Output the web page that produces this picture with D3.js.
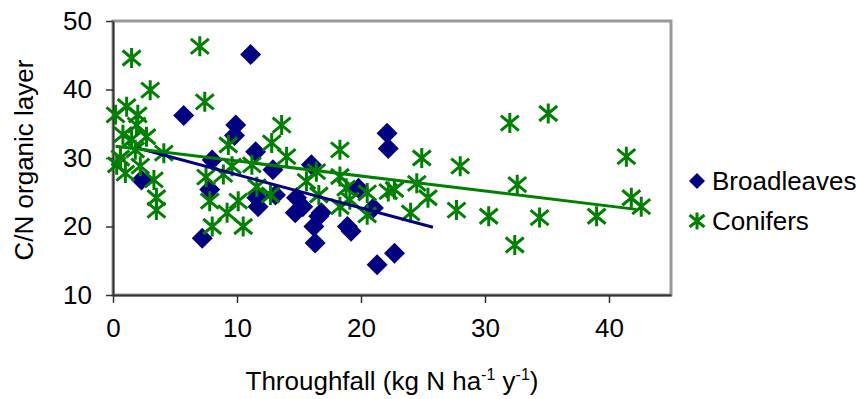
<!DOCTYPE html>
<html>
<head>
<meta charset="utf-8">
<script src="https://cdn.jsdelivr.net/npm/d3@7"></script>
<style>
  html, body { margin: 0; padding: 0; background: #fff; }
  svg { display: block; font-family: "Liberation Sans", Arial, sans-serif; }
</style>
</head>
<body>
<svg id="chart" width="856" height="399"></svg>
<script>
// ---- data ----
const broadleavesX = [11.1, 5.7, 9.9, 9.8, 11.5, 8.0, 2.3, 7.8, 7.2, 12.9, 11.6, 11.7, 13.1, 14.8, 14.7, 16.0, 22.1, 22.2, 19.8, 21.0, 15.3, 16.8, 16.6, 16.2, 18.9, 19.2, 16.3, 22.7, 21.3];
const broadleavesY = [45.1, 36.2, 34.8, 33.3, 30.9, 29.7, 26.8, 25.4, 18.3, 28.3, 24.2, 22.9, 24.6, 24.2, 22.0, 29.0, 33.6, 31.4, 25.6, 22.7, 22.9, 22.0, 21.5, 20.0, 20.0, 19.3, 17.6, 16.1, 14.4];

const conifersX = [1.5, 7.0, 3.0, 7.4, 1.1, 0.2, 2.0, 1.9, 0.8, 2.7, 1.5, 1.8, 4.1, 0.6, 0.3, 1.0, 2.2, 3.3, 3.5, 3.5, 7.5,
  13.6, 9.3, 12.8, 14.0, 11.2, 9.6, 8.9, 11.6, 12.7, 7.8, 10.1, 9.2, 8.0, 10.5,
  15.6, 18.3, 24.9, 16.4, 18.3, 18.8, 20.5, 22.2, 22.7, 24.5, 16.6, 19.1, 18.3, 20.5, 24.0, 25.4, 28.0, 27.7,
  32.0, 35.1, 41.4, 32.6, 30.3, 34.4, 32.4, 39.0, 41.8, 42.6];
const conifersY = [44.6, 46.3, 39.9, 38.2, 37.5, 36.3, 36.3, 34.8, 33.4, 33.1, 32.7, 31.2, 30.7, 30.0, 29.0, 27.8, 28.8, 26.8, 24.2, 22.4, 27.2,
  34.8, 31.9, 32.2, 30.2, 29.0, 28.8, 27.6, 25.8, 24.6, 23.7, 23.7, 22.0, 20.0, 20.0,
  26.6, 31.2, 30.0, 28.0, 27.3, 25.6, 24.9, 25.1, 25.4, 26.3, 24.6, 23.9, 22.9, 21.7, 22.0, 24.2, 28.8, 22.4,
  35.1, 36.5, 30.2, 26.1, 21.5, 21.3, 17.3, 21.5, 24.2, 22.9];

// trend line endpoints (as drawn in the reference)
const broadleavesTrendX = [1.9, 25.8];
const broadleavesTrendY = [31.5, 19.9];
const conifersTrendX = [0.2, 42.2];
const conifersTrendY = [31.7, 22.5];

const xTicks = [0, 10, 20, 30, 40];
const yTicks = [10, 20, 30, 40, 50];
const seriesNames = ["Broadleaves", "Conifers"];
const colors = ["#000080", "#008000"];

// ---- layout ----
const svg = d3.select("#chart");
const plot = { left: 113, top: 21, right: 671, bottom: 295 };
const x = d3.scaleLinear().domain([0, 45]).range([plot.left, plot.right]);
const y = d3.scaleLinear().domain([10, 50]).range([plot.bottom, plot.top]);

// plot area border (gray)
svg.append("rect")
  .attr("x", plot.left).attr("y", plot.top)
  .attr("width", plot.right - plot.left).attr("height", plot.bottom - plot.top)
  .attr("fill", "#fff").attr("stroke", "#999").attr("stroke-width", 3);

const fontSize = 26;

// axes
const yAxis = d3.axisLeft(y).tickValues(yTicks).tickSize(7).tickPadding(14).tickSizeOuter(0);
const gy = svg.append("g").attr("transform", `translate(${plot.left},0)`).call(yAxis);
const xAxis = d3.axisBottom(x).tickValues(xTicks).tickSize(8).tickPadding(16).tickSizeOuter(0);
const gx = svg.append("g").attr("transform", `translate(0,${plot.bottom})`).call(xAxis);
[gx, gy].forEach(g => {
  g.select(".domain").attr("stroke", "#333").attr("stroke-width", 2);
  g.selectAll(".tick line").attr("stroke", "#333").attr("stroke-width", 1.5);
  g.selectAll(".tick text").attr("font-size", fontSize).attr("fill", "#000")
    .attr("font-family", "Liberation Sans, Arial, sans-serif");
});

// markers
const diamondPath = r => `M0,${-r}L${r},0L0,${r}L${-r},0Z`;
const starPath = (h, w, d) => `M0,${-h}L0,${h}M${-w},${-d}L${w},${d}M${-w},${d}L${w},${-d}`;

const bData = broadleavesX.map((v, i) => ({ x: v, y: broadleavesY[i] }));
const cData = conifersX.map((v, i) => ({ x: v, y: conifersY[i] }));

const marks = svg.append("g");

marks.selectAll("path.b").data(bData).join("path").attr("class", "b")
  .attr("transform", d => `translate(${x(d.x)},${y(d.y)})`)
  .attr("d", diamondPath(10.5)).attr("fill", colors[0]);

marks.selectAll("path.c").data(cData).join("path").attr("class", "c")
  .attr("transform", d => `translate(${x(d.x)},${y(d.y)})`)
  .attr("d", starPath(10, 9, 7.5)).attr("fill", "none")
  .attr("stroke", colors[1]).attr("stroke-width", 3);

// trend lines
const line = d3.line().x(d => x(d[0])).y(d => y(d[1]));
svg.append("path")
  .attr("d", line(broadleavesTrendX.map((v, i) => [v, broadleavesTrendY[i]])))
  .attr("stroke", colors[0]).attr("stroke-width", 3).attr("fill", "none");
svg.append("path")
  .attr("d", line(conifersTrendX.map((v, i) => [v, conifersTrendY[i]])))
  .attr("stroke", colors[1]).attr("stroke-width", 3).attr("fill", "none");

// axis titles
const xt = svg.append("text").attr("x", (plot.left + plot.right) / 2).attr("y", 390)
  .attr("text-anchor", "middle").attr("font-size", fontSize).attr("fill", "#000");
xt.append("tspan").text("Throughfall (kg N ha");
xt.append("tspan").attr("dy", -10).attr("font-size", 16).text("-1");
xt.append("tspan").attr("dy", 10).text(" y");
xt.append("tspan").attr("dy", -10).attr("font-size", 16).text("-1");
xt.append("tspan").attr("dy", 10).text(")");

svg.append("text").attr("transform", "translate(33,160) rotate(-90)")
  .attr("text-anchor", "middle").attr("font-size", fontSize).attr("fill", "#000")
  .text("C/N organic layer");

// legend
const legend = svg.append("g");
const legY = [181, 221];
legend.append("path").attr("transform", `translate(697,${legY[0]})`)
  .attr("d", diamondPath(8)).attr("fill", colors[0]);
legend.append("path").attr("transform", `translate(697,${legY[1]})`)
  .attr("d", starPath(8.5, 7.5, 6)).attr("fill", "none")
  .attr("stroke", colors[1]).attr("stroke-width", 3);
seriesNames.forEach((n, i) => {
  legend.append("text").attr("x", 712).attr("y", legY[i] + 9)
    .attr("font-size", fontSize).attr("fill", "#000").text(n);
});
</script>
</body>
</html>
